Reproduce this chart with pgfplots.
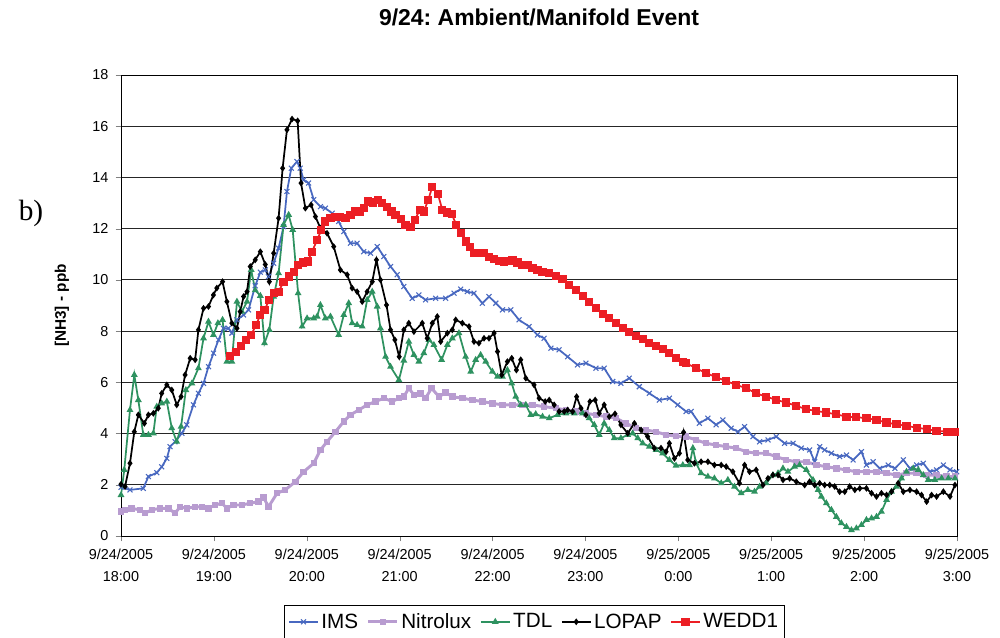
\documentclass[border=0pt]{standalone}
\usepackage{fontspec}
\setmainfont{Liberation Sans}
\newfontfamily\serifb{Liberation Serif}
\usepackage{pgfplots}
\pgfplotsset{compat=1.18}
\frenchspacing
\definecolor{imsblue}{RGB}{72,104,192}
\definecolor{nitro}{RGB}{184,156,208}
\definecolor{tdlgreen}{RGB}{46,146,96}
\definecolor{weddred}{RGB}{236,30,36}
\begin{document}
\begin{tikzpicture}
\useasboundingbox (-90.75pt,-76.5pt) rectangle (659.25pt,402pt);
\begin{axis}[
  scale only axis,
  width=627pt, height=345.75pt,
  xmin=0, xmax=540, ymin=0, ymax=18,
  xtick={0,60,...,540},
  xticklabels={{9/24/2005\\18:00},{9/24/2005\\19:00},{9/24/2005\\20:00},{9/24/2005\\21:00},{9/24/2005\\22:00},{9/24/2005\\23:00},{9/25/2005\\0:00},{9/25/2005\\1:00},{9/25/2005\\2:00},{9/25/2005\\3:00}},
  ytick={0,2,...,18},
  /pgf/number format/assume math mode=true,
  tick label style={font=\fontsize{10.8}{17}\selectfont},
  xticklabel style={align=center, yshift=-2pt},
  yticklabel style={xshift=-2pt},
  tick align=outside,
  major tick length=4pt,
  xtick pos=bottom, ytick pos=left,
  ymajorgrids,
  grid style={black!85, line width=0.6pt},
  axis line style={black, line width=0.7pt},
  title={9/24: Ambient/Manifold Event},
  title style={font=\bfseries\fontsize{17.2}{19}\selectfont, at={(axis description cs:0.5,1)}, anchor=center, yshift=37.5pt},
  ylabel={[NH3] - ppb},
  ylabel style={font=\bfseries\fontsize{11.5}{13}\selectfont, at={(axis description cs:-0.0706,0.5)}, anchor=center, rotate=0},
  legend columns=5,
  legend style={at={(axis description cs:0.4946,0)}, anchor=north, yshift=-51.75pt, draw=black, line width=0.5pt,
    font=\fontsize{15.5}{17}\selectfont, inner ysep=4pt, inner xsep=3pt,
    /tikz/every even column/.append style={column sep=4.5pt}},
  legend image code/.code={\draw[mark repeat=2,mark phase=2] plot coordinates {(0cm,0cm) (0.38cm,0cm) (0.76cm,0cm)};},
]
% IMS
\addplot[imsblue, line width=1.3pt, mark=x, mark size=2.6pt, mark options={line width=0.8pt}] coordinates {
(0,1.9) (5.8,1.8) (14.4,1.86) (17.7,2.32) (23.1,2.47) (26.3,2.7) (29.6,3.03) (31.7,3.49) (34.9,3.68) (39.3,4.01) (42.5,4.34) (46.8,5.12) (50.0,5.57) (53.3,5.96) (56.5,6.61) (59.8,7.14) (63.0,7.66) (66.2,8.11) (69.4,8.11) (71.6,7.92) (74.9,8.44) (79.2,8.63) (82.4,8.83) (86.7,9.77) (90.0,10.3) (93.2,10.39) (95.3,10.13) (98.6,10.65) (101.8,11.24) (105.0,12.08) (107.2,13.45) (110.0,14.36) (113.7,14.62) (115.8,14.36) (118.0,13.9) (121.2,13.78) (124.5,13.13) (128.8,12.86) (132.0,12.8) (136.4,12.6) (140.6,12.28) (143.9,11.89) (148.2,11.43) (152.5,11.43) (156.8,11.1) (161.2,11.04) (165.5,11.3) (169.8,10.91) (174.1,10.52) (178.4,10.2) (182.7,9.74) (188.1,9.28) (192.4,9.41) (196.7,9.22) (203.2,9.28) (209.7,9.28) (215.1,9.48) (219.4,9.64) (223.7,9.54) (228.0,9.48) (233.4,9.09) (237.7,9.35) (242.1,9.09) (246.4,8.83) (251.8,8.83) (257.1,8.44) (263.6,8.18) (269.0,7.85) (273.3,7.72) (277.7,7.33) (283.0,7.27) (288.5,7.0) (294.9,6.68) (300.3,6.75) (306.8,6.55) (312.1,6.55) (317.6,6.03) (322.9,5.96) (328.3,6.16) (334.8,5.83) (341.3,5.57) (347.7,5.31) (354.2,5.38) (359.6,5.12) (365.0,4.86) (368.3,4.86) (373.6,4.4) (379.1,4.6) (384.4,4.34) (388.8,4.53) (394.1,4.21) (398.5,4.07) (402.8,4.27) (408.2,3.88) (412.5,3.68) (417.9,3.75) (423.3,3.88) (428.6,3.62) (434.1,3.62) (439.4,3.43) (444.8,3.36) (448.1,2.9) (451.3,3.49) (454.5,3.36) (458.9,3.23) (464.2,3.1) (468.6,3.16) (472.9,2.97) (478.3,3.29) (481.5,2.77) (485.8,2.9) (490.1,2.64) (495.6,2.77) (499.9,2.64) (505.3,2.97) (509.6,2.64) (513.9,2.77) (518.2,2.84) (522.5,2.51) (526.8,2.58) (531.2,2.77) (535.5,2.58) (539.8,2.51)
};
\addlegendentry{IMS}
% Nitrolux
\addplot[nitro, line width=2.2pt, mark=square*, mark size=1.3pt] coordinates {
(0,0.95) (2.6,1.02) (6.9,1.08) (12.3,1.02) (15.5,0.89) (19.9,1.02) (25.2,1.08) (30.6,1.08) (34.9,0.89) (38.2,1.14) (42.5,1.08) (47.9,1.14) (52.2,1.14) (56.5,1.08) (60.8,1.21) (65.2,1.28) (68.4,1.08) (72.7,1.21) (78.1,1.21) (83.5,1.28) (88.9,1.34) (92.1,1.5) (95.3,1.14) (100.8,1.67) (106.1,1.8) (112.6,2.12) (118.0,2.51) (124.5,2.84) (128.8,3.36) (133.1,3.68) (138.5,4.07) (143.9,4.47) (148.2,4.73) (153.6,4.92) (159.0,5.12) (164.4,5.25) (169.8,5.38) (175.2,5.25) (179.5,5.38) (182.7,5.44) (185.9,5.77) (189.2,5.51) (193.5,5.57) (196.7,5.38) (200.6,5.77) (205.4,5.44) (209.7,5.6) (214.0,5.44) (220.5,5.38) (227.0,5.31) (233.4,5.25) (239.9,5.18) (246.4,5.12) (252.9,5.12) (259.3,5.12) (265.8,5.12) (273.3,5.05) (280.9,4.99) (287.4,4.92) (293.8,4.86) (300.3,4.79) (306.8,4.73) (313.2,4.66) (319.7,4.6) (326.2,4.4) (332.7,4.21) (339.1,4.14) (345.6,4.07) (352.1,3.95) (358.5,3.9) (365.0,3.88) (371.5,3.75) (378.0,3.62) (384.4,3.55) (390.9,3.49) (397.4,3.43) (403.9,3.29) (410.3,3.23) (416.8,3.23) (423.3,3.1) (429.7,2.97) (436.2,2.9) (442.7,2.9) (449.2,2.77) (455.6,2.71) (462.1,2.64) (468.6,2.58) (475.0,2.51) (481.5,2.51) (488.0,2.51) (494.5,2.45) (500.9,2.38) (507.4,2.45) (513.9,2.45) (520.4,2.38) (526.8,2.38) (533.3,2.32) (538.7,2.32)
};
\addlegendentry{Nitrolux}
% TDL
\addplot[tdlgreen, line width=1.3pt, mark=triangle*, mark size=1.7pt] coordinates {
(0,1.6) (2.1,2.58) (5.8,4.92) (8.6,6.29) (11.2,5.31) (14.4,3.95) (17.7,3.95) (20.9,4.01) (23.1,5.05) (26.3,5.18) (29.6,5.25) (32.8,4.21) (36.0,3.68) (38.8,4.27) (41.9,5.7) (45.8,5.96) (50.0,6.55) (53.3,7.72) (56.5,8.37) (59.7,7.85) (62.6,8.31) (65.6,8.44) (68.4,6.81) (71.6,6.81) (74.9,9.15) (78.1,8.76) (81.4,9.15) (84.1,10.39) (86.7,9.6) (90.0,9.38) (92.7,7.53) (95.8,8.05) (98.6,9.35) (101.8,10.26) (105.0,12.15) (108.3,12.54) (110.9,11.95) (114.4,9.48) (117.0,8.18) (120.2,8.5) (124.5,8.5) (126.7,8.57) (128.8,9.02) (132.0,8.5) (135.3,8.57) (140.6,7.85) (143.9,8.63) (147.1,9.09) (149.3,8.31) (152.5,8.24) (155.8,8.18) (159.0,9.22) (162.3,9.54) (165.5,8.96) (167.6,8.11) (170.9,7.0) (174.1,6.61) (179.5,6.09) (182.7,6.85) (185.9,7.59) (189.2,7.07) (192.4,6.81) (195.6,7.14) (198.9,7.66) (202.1,7.46) (207.1,6.88) (210.8,7.46) (214.0,7.72) (218.3,7.92) (222.6,7.0) (225.9,6.42) (229.1,6.88) (232.3,7.07) (235.6,6.81) (239.9,6.42) (243.2,6.22) (246.4,6.22) (249.6,6.48) (252.4,5.96) (255.0,5.44) (258.2,5.12) (261.5,5.12) (264.7,4.73) (267.9,4.76) (272.3,4.66) (276.6,4.6) (282.0,4.73) (287.4,4.79) (292.7,4.79) (298.2,4.79) (302.4,4.6) (305.7,4.34) (308.9,3.95) (312.1,4.4) (315.4,4.14) (318.6,3.82) (322.9,3.82) (327.3,3.95) (330.5,4.01) (333.8,3.82) (337.0,3.62) (341.3,3.49) (345.6,3.36) (349.9,3.23) (354.2,2.97) (358.5,2.75) (362.9,2.77) (367.2,2.77) (369.4,3.43) (371.5,2.84) (374.7,2.45) (379.1,2.32) (383.3,2.25) (387.7,2.06) (392.0,2.19) (396.3,1.93) (400.6,1.67) (404.9,1.8) (409.2,1.73) (412.5,1.93) (416.8,2.06) (421.1,2.38) (424.4,2.45) (427.6,2.64) (430.8,2.51) (435.1,2.71) (438.3,2.77) (442.7,2.58) (447.0,2.19) (450.3,1.8) (452.4,1.54) (455.6,1.28) (458.9,1.02) (462.1,0.75) (465.3,0.5) (468.6,0.36) (471.8,0.23) (475.0,0.3) (478.3,0.43) (481.5,0.63) (484.8,0.69) (488.0,0.75) (491.2,0.95) (494.5,1.41) (497.7,1.73) (500.9,1.93) (504.2,2.25) (507.4,2.51) (511.7,2.64) (515.0,2.58) (518.2,2.38) (521.4,2.19) (525.7,2.19) (530.1,2.25) (534.4,2.25) (538.7,2.25)
};
\addlegendentry{TDL}
% LOPAP
\addplot[black, line width=1.3pt, mark=diamond*, mark size=1.5pt] coordinates {
(0,2.02) (2.6,1.93) (5.8,2.84) (8.6,4.07) (11.2,4.73) (15.1,4.4) (17.7,4.73) (20.9,4.79) (24.1,4.99) (26.3,5.57) (29.6,5.9) (32.8,5.7) (36.0,5.12) (38.8,5.44) (41.4,6.29) (44.7,6.94) (47.9,6.88) (50.0,8.05) (53.3,8.89) (56.5,8.96) (59.7,9.41) (61.9,9.68) (65.6,9.93) (68.4,9.15) (71.6,8.31) (74.9,8.11) (77.0,8.76) (79.2,9.35) (81.4,9.54) (83.5,10.52) (86.7,10.78) (90.0,11.1) (93.2,10.6) (95.8,9.93) (98.6,11.04) (101.8,12.41) (104.4,14.36) (107.2,15.86) (110.5,16.28) (114.1,16.21) (116.3,13.78) (119.1,12.8) (122.8,12.93) (125.6,12.47) (128.8,12.02) (133.1,11.82) (137.4,11.3) (141.7,10.39) (146.1,10.2) (149.3,9.68) (152.5,9.54) (155.8,9.15) (159.0,9.54) (162.3,9.93) (165.0,10.78) (167.6,10.0) (171.5,9.02) (174.1,8.05) (176.9,7.66) (179.7,7.0) (182.7,8.05) (185.9,8.31) (189.2,7.98) (194.6,8.31) (197.8,7.72) (201.1,8.31) (204.3,8.57) (206.5,7.59) (210.8,7.92) (214.0,8.05) (216.2,8.44) (220.5,8.31) (224.8,8.18) (228.0,7.59) (231.2,7.53) (234.5,7.72) (237.7,7.72) (241.0,7.92) (243.2,7.2) (245.9,6.29) (249.6,6.81) (252.4,6.94) (255.4,6.48) (258.2,6.88) (261.5,6.16) (266.8,5.9) (270.1,5.38) (274.0,5.25) (276.6,5.31) (279.8,5.12) (283.0,4.86) (286.3,4.86) (288.5,4.92) (291.7,4.86) (294.3,5.44) (297.1,4.99) (300.3,4.73) (302.9,5.25) (306.3,5.31) (308.9,4.79) (312.1,5.12) (315.4,4.66) (319.1,4.77) (322.9,4.34) (327.3,4.01) (331.6,4.4) (335.9,4.14) (340.2,3.88) (344.5,3.43) (348.8,3.43) (352.1,3.29) (354.2,3.62) (357.5,3.03) (360.7,3.23) (363.4,4.05) (366.1,2.97) (370.4,2.84) (374.7,2.9) (379.1,2.9) (383.3,2.77) (387.7,2.77) (390.9,2.71) (395.2,2.51) (399.5,2.06) (402.8,2.77) (406.0,2.51) (410.3,2.58) (414.7,1.99) (417.9,2.25) (421.1,2.38) (424.4,2.38) (427.6,2.19) (431.9,2.25) (436.2,2.12) (441.6,1.99) (444.8,2.12) (448.1,1.99) (451.3,2.06) (454.5,1.99) (457.8,1.99) (461.0,1.93) (464.2,1.73) (467.5,1.73) (470.7,1.93) (474.0,1.8) (477.2,1.86) (481.5,1.86) (484.8,1.67) (488.0,1.54) (491.2,1.67) (494.5,1.6) (497.7,1.73) (502.0,2.06) (505.3,1.73) (509.6,1.8) (513.9,1.73) (517.1,1.6) (520.4,1.34) (523.6,1.6) (526.8,1.54) (531.2,1.73) (535.5,1.54) (538.7,1.99)
};
\addlegendentry{LOPAP}
% WEDD1
\addplot[weddred, line width=1.3pt, mark=square*, mark size=2.4pt] coordinates {
(70.5,7.03) (74.2,7.2) (77.7,7.42) (80.7,7.66) (84.1,7.85) (87.2,8.24) (90.0,8.63) (92.7,8.83) (95.8,9.22) (99.0,9.48) (101.8,9.54) (105.0,9.93) (108.3,10.13) (111.5,10.32) (114.4,10.59) (117.3,10.68) (120.6,10.72) (123.4,11.1) (126.7,11.56) (129.4,11.95) (132.0,12.28) (135.3,12.41) (138.5,12.47) (141.7,12.47) (145.0,12.41) (148.2,12.54) (151.0,12.67) (154.2,12.67) (156.8,12.8) (159.7,13.06) (162.6,13.02) (165.9,13.13) (168.7,12.99) (172.0,12.86) (174.7,12.67) (177.3,12.52) (180.6,12.38) (183.8,12.15) (187.0,12.08) (189.8,12.34) (192.9,12.73) (195.6,12.67) (198.5,13.13) (201.1,13.64) (204.7,13.35) (207.6,12.73) (210.8,12.63) (213.6,12.57) (216.6,12.15) (219.4,11.82) (222.6,11.5) (225.2,11.3) (228.0,11.04) (231.2,11.04) (234.5,11.04) (237.7,10.91) (241.0,10.81) (244.2,10.74) (247.4,10.72) (250.3,10.74) (252.9,10.78) (256.1,10.68) (259.3,10.59) (262.6,10.59) (265.8,10.46) (269.0,10.39) (272.3,10.32) (276.6,10.26) (280.9,10.16) (285.2,10.03) (289.5,9.8) (293.8,9.61) (298.2,9.38) (302.4,9.15) (306.8,8.89) (311.1,8.66) (315.4,8.5) (319.7,8.31) (324.1,8.11) (328.3,7.98) (332.7,7.81) (337.0,7.68) (341.3,7.55) (345.6,7.42) (349.9,7.29) (354.2,7.14) (358.5,6.96) (362.9,6.81) (365.0,6.75) (371.5,6.55) (378.0,6.36) (384.4,6.2) (390.9,6.05) (397.4,5.9) (403.9,5.77) (410.3,5.57) (416.8,5.44) (423.3,5.31) (429.7,5.21) (436.2,5.08) (442.7,4.95) (449.2,4.88) (455.6,4.82) (462.1,4.75) (468.6,4.66) (475.0,4.64) (481.5,4.6) (488.0,4.53) (494.5,4.43) (500.9,4.36) (507.4,4.3) (513.9,4.23) (520.4,4.17) (526.8,4.11) (533.3,4.07) (538.7,4.07)
};
\addlegendentry{WEDD1}
\end{axis}
\node[font=\serifb\fontsize{22}{24}\selectfont] at (-67.5pt,242.25pt) {b)};
\end{tikzpicture}
\end{document}
